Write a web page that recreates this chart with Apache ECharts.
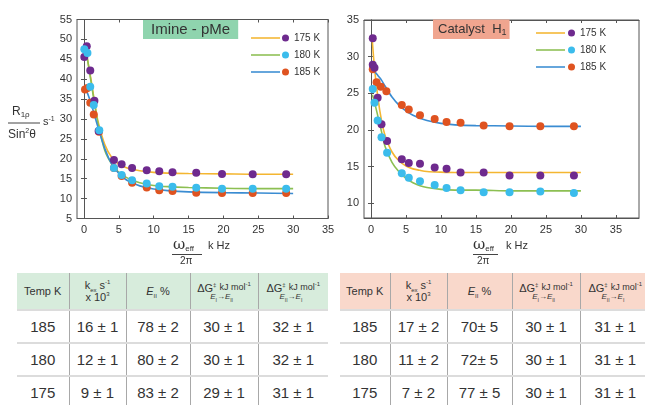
<!DOCTYPE html>
<html>
<head>
<meta charset="utf-8">
<script src="https://cdn.jsdelivr.net/npm/echarts@6/dist/echarts.min.js"></script>
<style>
  body { margin: 0; width: 645px; height: 405px; overflow: hidden; background: #fff; position: relative; font-family: 'Liberation Sans', Arial, sans-serif; }
  #chart { position: absolute; left: 0; top: 0; width: 645px; height: 272px; }
  .tbl { position: absolute; top: 273px; border-collapse: collapse; table-layout: fixed; color: #333; }
  .tbl th { height: 36px; font-weight: normal; font-size: 11px; line-height: 12px; padding: 0; border-left: 1px solid #a8a8a8; text-align: center; }
  .tbl td { height: 31px; font-size: 15px; padding: 0; text-align: center; border-left: 1px solid #a8a8a8; border-top: 2px solid #dcdcdc; }
  .tbl th:first-child, .tbl td:first-child { border-left: none; }
  .tbl sub, .tbl sup { font-size: 6px; line-height: 0; }
  .dg { position: relative; display: inline-block; font-size: 11px; white-space: nowrap; text-align: left; top: -3px; }
  .dg .kj { font-size: 9px; position: relative; top: -2px; }
  .dg .sb { position: absolute; left: 13px; top: 9px; font-size: 8px; }
  .dg .sb sub { font-size: 5px; }
</style>
</head>
<body>
<div id="chart"></div>
<table class="tbl" id="tImine" style="left:17px; width:311px;"></table>
<table class="tbl" id="tCat" style="left:340px; width:310px;"></table>
<script>
// ---- Imine - pMe : measured points ----
const imX175 = [0.05, 0.4, 0.9, 1.5, 2.1, 4.3, 5.4, 6.9, 9.0, 10.8, 12.7, 16.1, 19.8, 24.2, 29.0]
const imY175 = [45.6, 48.3, 42.2, 34.6, 27.0, 19.7, 18.6, 17.7, 17.1, 16.9, 16.6, 16.5, 16.2, 16.1, 16.1]
const imX180 = [0.05, 0.5, 0.9, 1.4, 2.2, 4.3, 5.4, 6.9, 9.0, 10.8, 12.7, 16.1, 19.8, 24.2, 29.0]
const imY180 = [47.5, 46.6, 38.1, 33.5, 27.2, 17.7, 15.9, 14.6, 13.8, 13.1, 13.0, 12.7, 12.5, 12.5, 12.5]
const imX185 = [0.15, 0.5, 0.9, 1.4, 2.15, 4.3, 5.4, 6.9, 9.0, 10.8, 12.7, 16.1, 19.8, 24.2, 29.0]
const imY185 = [37.4, 37.8, 34.1, 31.1, 26.8, 17.7, 15.7, 14.0, 12.8, 12.1, 11.9, 11.5, 11.4, 11.4, 11.4]
// ---- Imine - pMe : fitted curves ----
const fitX = [0.2, 0.5, 1, 1.5, 2, 3, 4, 5, 6, 7, 8, 10, 12, 15, 20, 25, 30]
const imFit175 = [47.5, 45.0, 40.0, 34.5, 29.5, 23.5, 20.3, 18.7, 17.8, 17.3, 17.0, 16.6, 16.4, 16.3, 16.2, 16.1, 16.1]
const imFit180 = [47.5, 45.0, 39.5, 34.0, 29.0, 22.0, 18.6, 16.6, 15.4, 14.6, 14.0, 13.3, 13.0, 12.8, 12.6, 12.5, 12.5]
const imFit185 = [37.5, 36.5, 34.0, 31.0, 28.0, 22.5, 18.6, 16.3, 14.8, 13.9, 13.2, 12.4, 12.0, 11.7, 11.5, 11.4, 11.3]

// ---- Catalyst H1 : measured points ----
const caX175 = [0.25, 0.25, 0.5, 0.95, 1.5, 2.3, 4.4, 5.4, 7.0, 9.1, 10.8, 12.8, 16.1, 19.8, 24.2, 29.0]
const caY175 = [32.5, 28.9, 28.5, 24.4, 20.8, 18.5, 16.0, 15.5, 15.4, 14.9, 14.7, 14.2, 14.2, 13.8, 13.8, 13.8]
const caX180 = [0.25, 0.5, 0.95, 1.5, 2.3, 4.4, 5.4, 7.0, 9.1, 10.8, 12.8, 16.1, 19.8, 24.2, 29.0]
const caY180 = [25.6, 23.7, 21.3, 19.0, 16.9, 14.1, 13.5, 13.0, 12.5, 12.1, 11.8, 11.5, 11.5, 11.6, 11.4]
const caX185 = [0.25, 0.8, 1.4, 2.2, 4.4, 5.4, 7.0, 9.1, 10.8, 12.8, 16.1, 19.8, 24.2, 29.0]
const caY185 = [28.3, 26.5, 25.9, 25.3, 23.4, 22.8, 22.0, 21.5, 21.1, 21.0, 20.6, 20.5, 20.5, 20.5]
// ---- Catalyst H1 : fitted curves ----
const caFit175 = [32.0, 28.5, 24.3, 21.3, 19.3, 17.0, 15.8, 15.1, 14.7, 14.5, 14.35, 14.25, 14.2, 14.2, 14.2, 14.2, 14.2]
const caFit180 = [24.8, 23.8, 21.8, 19.8, 17.8, 15.6, 14.3, 13.4, 12.8, 12.4, 12.15, 11.9, 11.8, 11.8, 11.7, 11.7, 11.7]
const caFit185 = [28.2, 28.0, 27.4, 26.8, 26.0, 24.5, 23.4, 22.6, 22.0, 21.6, 21.3, 20.9, 20.7, 20.6, 20.55, 20.5, 20.5]

const xTicks = [0, 5, 10, 15, 20, 25, 30, 35]
const imYTicks = [5, 10, 15, 20, 25, 30, 35, 40, 45, 50, 55]
const caYTicks = [10, 15, 20, 25, 30, 35]

// ---- tables ----
const temps = ['185', '180', '175']
const imKex = ['16 ± 1', '12 ± 1', '9 ± 1']
const imE = ['78 ± 2', '80 ± 2', '83 ± 2']
const imDg1 = ['30 ± 1', '30 ± 1', '29 ± 1']
const imDg2 = ['32 ± 1', '32 ± 1', '31 ± 1']
const caKex = ['17 ± 2', '11 ± 2', '7 ± 2']
const caE = ['70± 5', '72± 5', '77 ± 5']
const caDg1 = ['30 ± 1', '30 ± 1', '30 ± 1']
const caDg2 = ['31 ± 1', '31 ± 1', '31 ± 1']

const dotColors = { '175 K': '#6e2a8e', '180 K': '#3bbcec', '185 K': '#df5320' }
const lineColors = { '175 K': '#f4b631', '180 K': '#8cbf52', '185 K': '#3a8cd2' }
const txt = '#333'

function pairs (xs, ys) {
  return xs.map((x, i) => [x, ys[i]])
}

function buildTable (id, bg, kex, e, dg1, dg2) {
  const dgHead = (a, b) =>
    '<span class="dg">ΔG<sup>‡</sup> <span class="kj">kJ mol<sup>-1</sup></span>' +
    '<span class="sb"><i>E</i><sub>' + a + '</sub>→<i>E</i><sub>' + b + '</sub></span></span>'
  const w = id === 'tImine' ? [52, 57, 64, 68, 70] : [50, 57, 65, 68, 70]
  let html = '<colgroup>' + w.map(v => '<col style="width:' + v + 'px">').join('') + '</colgroup>'
  html += '<tr style="background:' + bg + '"><th>Temp K</th><th>k<sub>ex</sub> s<sup>-1</sup><br>x 10<sup>3</sup></th><th><i>E</i><sub>II</sub> %</th><th>' + dgHead('I', 'II') + '</th><th>' + dgHead('II', 'I') + '</th></tr>'
  for (let i = 0; i < temps.length; i++) {
    html += '<tr><td>' + temps[i] + '</td><td>' + kex[i] + '</td><td>' + e[i] + '</td><td>' + dg1[i] + '</td><td>' + dg2[i] + '</td></tr>'
  }
  document.getElementById(id).innerHTML = html
}
buildTable('tImine', '#d7ecdc', imKex, imE, imDg1, imDg2)
buildTable('tCat', '#f9d8cb', caKex, caE, caDg1, caDg2)

// ---- chart ----
const chart = echarts.init(document.getElementById('chart'))

function xAxes (grid, max) {
  const base = {
    gridIndex: grid, type: 'value', min: -1, max: max,
    splitLine: { show: false },
    axisLine: { lineStyle: { color: '#555' } },
    axisTick: { inside: true, length: 3, customValues: xTicks, lineStyle: { color: '#555' } },
  }
  return [
    Object.assign({}, base, { position: 'bottom', axisLabel: { customValues: xTicks, color: txt, fontSize: 11, margin: 6 } }),
    Object.assign({}, base, { position: 'top', axisLabel: { show: false } }),
  ]
}
function yAxes (grid, min, max, ticks) {
  const base = {
    gridIndex: grid, type: 'value', min: min, max: max,
    splitLine: { show: false },
    axisLine: { lineStyle: { color: '#555' } },
    axisTick: { inside: true, length: 3, customValues: ticks, lineStyle: { color: '#555' } },
  }
  return [
    Object.assign({}, base, { position: 'left', axisLabel: { customValues: ticks, color: txt, fontSize: 11, margin: 5 } }),
    Object.assign({}, base, { position: 'right', axisLabel: { show: false } }),
  ]
}

function scatter (name, data, axis) {
  return {
    name: name, type: 'scatter', xAxisIndex: axis, yAxisIndex: axis, data: data,
    symbolSize: 8, itemStyle: { color: dotColors[name], opacity: 1 }, z: 4,
  }
}
function fit (name, data, axis) {
  return {
    name: name + ' fit', type: 'line', xAxisIndex: axis, yAxisIndex: axis, data: data,
    symbol: 'none', smooth: 0.3, lineStyle: { width: 1.6, color: lineColors[name] },
    itemStyle: { color: lineColors[name] }, z: 3,
  }
}

function legends (lineLeft, dotLeft, top) {
  const common = { orient: 'vertical', top: top, itemGap: 5, selectedMode: false, padding: 0, textStyle: { fontSize: 10, lineHeight: 12, color: txt } }
  return [
    Object.assign({}, common, {
      left: lineLeft, icon: 'path://M0,0h30v1.6h-30z', itemWidth: 29, itemHeight: 12,
      data: ['175 K fit', '180 K fit', '185 K fit'], formatter: () => '\u00a0',
    }),
    Object.assign({}, common, { left: dotLeft, icon: 'circle', itemWidth: 7, itemHeight: 7, data: ['175 K', '180 K', '185 K'] }),
  ]
}

const option = {
  animation: false,
  textStyle: { fontFamily: "'Liberation Sans', Arial, sans-serif" },
  grid: [
    { left: 77, top: 19.5, width: 251, height: 199, show: true, borderColor: '#555', borderWidth: 1 },
    { left: 364, top: 20, width: 275, height: 198, show: true, borderColor: '#555', borderWidth: 1 },
  ],
  xAxis: xAxes(0, 35).concat(xAxes(1, 38.3)),
  yAxis: yAxes(0, 5, 55, imYTicks).concat(yAxes(1, 8, 35, caYTicks)),
  title: [
    {
      text: 'Imine - pMe', left: 143, top: 20, backgroundColor: '#8fd4ae', padding: [2, 8, 2, 8],
      textStyle: { fontSize: 15, fontWeight: 'normal', color: txt },
    },
    {
      text: 'Catalyst  H{sub|1}', left: 433, top: 18, backgroundColor: '#f0a58f', padding: [3, 3, 2, 5],
      textStyle: { fontSize: 13, fontWeight: 'normal', color: txt, rich: { sub: { fontSize: 9, padding: [7, 0, 0, 0], color: txt } } },
    },
  ],
  legend: legends(251, 282, 32).concat(legends(536, 568, 27)),
  graphic: [
    // y-axis label, left chart
    { type: 'text', left: 12, top: 106, style: { text: 'R{s|1ρ}', fontSize: 12, fill: txt, rich: { s: { fontSize: 8, padding: [5, 0, 0, 0] } } } },
    { type: 'line', shape: { x1: 8, y1: 123, x2: 40, y2: 123 }, style: { stroke: '#444', lineWidth: 1 } },
    { type: 'text', left: 8, top: 128, style: { text: 'Sin{p|2}θ', fontSize: 12, fill: txt, rich: { p: { fontSize: 7, padding: [0, 0, 6, 0] } } } },
    { type: 'text', left: 43, top: 116, style: { text: 's{p|-1}', fontSize: 11, fill: txt, rich: { p: { fontSize: 7, padding: [0, 0, 5, 0] } } } },
    // x-axis labels
    { type: 'text', left: 173, top: 238, style: { text: 'ω{s|eff}', font: "15px 'DejaVu Serif'", fill: txt, rich: { s: { fontSize: 8, fontFamily: 'Liberation Sans', padding: [6, 0, 0, 0] } } } },
    { type: 'line', shape: { x1: 172, y1: 254.5, x2: 202, y2: 254.5 }, style: { stroke: '#444', lineWidth: 1 } },
    { type: 'text', left: 180, top: 256, style: { text: '2π', fontSize: 10, fill: txt } },
    { type: 'text', left: 208, top: 240, style: { text: 'k Hz', fontSize: 11, fill: txt } },
    { type: 'text', left: 473, top: 238, style: { text: 'ω{s|eff}', font: "15px 'DejaVu Serif'", fill: txt, rich: { s: { fontSize: 8, fontFamily: 'Liberation Sans', padding: [6, 0, 0, 0] } } } },
    { type: 'line', shape: { x1: 473, y1: 254.5, x2: 498, y2: 254.5 }, style: { stroke: '#444', lineWidth: 1 } },
    { type: 'text', left: 477, top: 256, style: { text: '2π', fontSize: 10, fill: txt } },
    { type: 'text', left: 506, top: 240, style: { text: 'k Hz', fontSize: 11, fill: txt } },
  ],
  series: [
    fit('175 K', pairs(fitX, imFit175), 0),
    fit('180 K', pairs(fitX, imFit180), 0),
    fit('185 K', pairs(fitX, imFit185), 0),
    scatter('185 K', pairs(imX185, imY185), 0),
    scatter('175 K', pairs(imX175, imY175), 0),
    scatter('180 K', pairs(imX180, imY180), 0),
    fit('175 K', pairs(fitX, caFit175), 2),
    fit('180 K', pairs(fitX, caFit180), 2),
    fit('185 K', pairs(fitX, caFit185), 2),
    scatter('185 K', pairs(caX185, caY185), 2),
    scatter('175 K', pairs(caX175, caY175), 2),
    scatter('180 K', pairs(caX180, caY180), 2),
  ],
}
chart.setOption(option)
</script>
</body>
</html>
